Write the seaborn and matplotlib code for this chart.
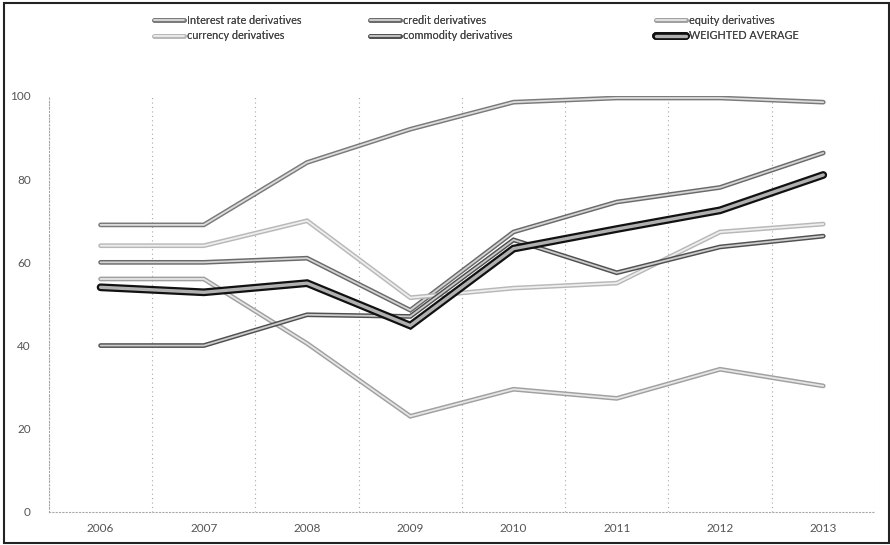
import matplotlib
matplotlib.use("Agg")
import matplotlib.pyplot as plt
import seaborn as sns
import pandas as pd
from matplotlib.lines import Line2D
from matplotlib.patches import Rectangle

years = [2006, 2007, 2008, 2009, 2010, 2011, 2012, 2013]
interest_rate = [69, 69, 84, 92, 98.5, 99.5, 99.5, 98.5]
credit = [60, 60, 61, 48.5, 67.3, 74.5, 78, 86.3]
equity = [56, 56, 40.5, 23, 29.5, 27.3, 34.3, 30.3]
currency = [64, 64, 70, 51.5, 53.8, 55, 67.3, 69.2]
commodity = [40, 40, 47.4, 47, 65.4, 57.5, 63.7, 66.3]
weighted_avg = [54, 52.8, 55, 44.8, 63.3, 68, 72.5, 81]

names = ["Interest rate derivatives", "credit derivatives", "equity derivatives",
         "currency derivatives", "commodity derivatives", "WEIGHTED AVERAGE"]
series = [interest_rate, credit, equity, currency, commodity, weighted_avg]

outer = {"Interest rate derivatives": "#7a7a7a", "credit derivatives": "#6a6a6a",
         "equity derivatives": "#a0a0a0", "currency derivatives": "#b8b8b8",
         "commodity derivatives": "#505050", "WEIGHTED AVERAGE": "#111111"}
inner = {"Interest rate derivatives": "#dcdcdc", "credit derivatives": "#d4d4d4",
         "equity derivatives": "#e6e6e6", "currency derivatives": "#eeeeee",
         "commodity derivatives": "#cccccc", "WEIGHTED AVERAGE": "#b0b0b0"}
widths = {n: (3.4, 1.3) for n in names}
widths["WEIGHTED AVERAGE"] = (5.6, 2.4)

rows = []
for n, vals in zip(names, series):
    for y, v in zip(years, vals):
        rows.append({"year": y, "value": v, "series": n})
df = pd.DataFrame(rows)

sns.set_style("white")
plt.rcParams["font.family"] = ["Lato", "DejaVu Sans"]

fig = plt.figure(figsize=(8.9, 5.45), dpi=100)
ax = fig.add_axes([0.055, 0.0606, 0.928, 0.7634])

for n in names:
    sub = df[df["series"] == n]
    wo, wi = widths[n]
    sns.lineplot(data=sub, x="year", y="value", color=outer[n], linewidth=wo,
                 ax=ax, legend=False, solid_joinstyle="miter")
    sns.lineplot(data=sub, x="year", y="value", color=inner[n], linewidth=wi,
                 ax=ax, legend=False, solid_joinstyle="miter")

ax.set_xlim(2005.5, 2013.5)
ax.set_ylim(0, 100)
ax.set_xticks(years)
ax.set_xticklabels([str(y) for y in years])
ax.set_yticks([0, 20, 40, 60, 80, 100])
ax.set_xticks([y + 0.5 for y in [2005] + years], minor=True)
ax.grid(False)
ax.grid(True, which="minor", axis="x", color="#a8a8a8", linestyle=(0, (1, 3)), linewidth=0.8)
ax.tick_params(axis="both", which="both", length=0, labelsize=8.5, labelcolor="#555555")
ax.tick_params(axis="y", pad=13)
ax.tick_params(axis="x", pad=8)
ax.set_xlabel("")
ax.set_ylabel("")
for s in ["top", "right"]:
    ax.spines[s].set_visible(False)
for s in ["left", "bottom"]:
    ax.spines[s].set_color("#a8a8a8")
    ax.spines[s].set_linestyle((0, (1, 2)))
    ax.spines[s].set_linewidth(0.8)

handles = {}
for n in names:
    wo, wi = widths[n]
    h1 = Line2D([], [], color=outer[n], linewidth=wo)
    h2 = Line2D([], [], color=inner[n], linewidth=wi)
    handles[n] = (h1, h2)

columns = [(["Interest rate derivatives", "currency derivatives"], 0.1677),
           (["credit derivatives", "commodity derivatives"], 0.4105),
           (["equity derivatives", "WEIGHTED AVERAGE"], 0.732)]
for labels, x0 in columns:
    leg = fig.legend([handles[n] for n in labels], labels, loc="upper left",
                     bbox_to_anchor=(x0, 0.98), ncol=1, frameon=False, fontsize=7.8,
                     handlelength=2.8, handletextpad=0.25, borderaxespad=0.0,
                     labelspacing=0.38, labelcolor="#444444")
    fig.add_artist(leg)

fig.patches.append(Rectangle((0.004, 0.004), 0.995, 0.991, transform=fig.transFigure,
                             fill=False, edgecolor="#222222", linewidth=1.5))

fig.savefig("out.png", dpi=100)
